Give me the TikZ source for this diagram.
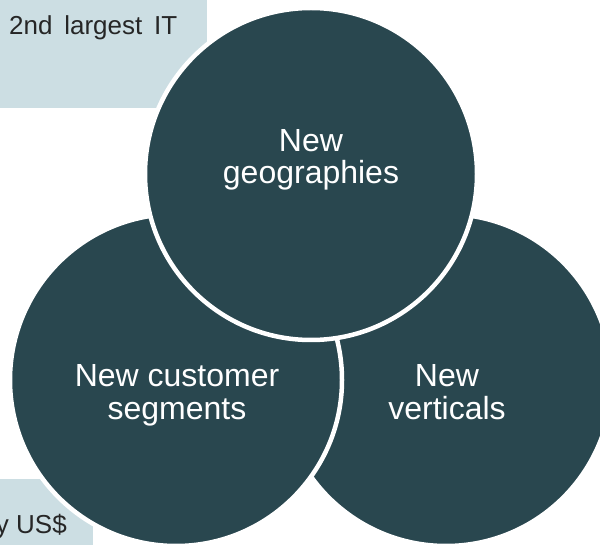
\documentclass[tikz,border=0pt]{standalone}
\usepackage{fontspec}
\setmainfont{Liberation Sans}
\definecolor{circfill}{HTML}{29474F}
\definecolor{boxfill}{HTML}{CCDEE3}
\definecolor{boxink}{HTML}{262626}
\begin{document}
\begin{tikzpicture}[x=1pt,y=-1pt,
  venn/.style={circle, fill=circfill, draw=white, line width=4.5pt, minimum size=332pt, inner sep=0pt},
  vlabel/.style={text=white, font=\fontsize{32}{34}\selectfont, inner sep=0pt, anchor=base},
  boxtext/.style={text=boxink, font=\fontsize{26}{29}\selectfont, inner sep=0pt},
  infobox/.style={fill=boxfill, inner sep=0pt, draw=none}]
\useasboundingbox (0,0) rectangle (600,545);
\clip (0,0) rectangle (600,545);
\node[infobox, minimum width=217pt, minimum height=128pt, anchor=south west] (topbox) at (-10,108) {};
\node[infobox, minimum width=103pt, minimum height=80pt, anchor=north west] (botbox) at (-10,479) {};
\node[boxtext, anchor=base west] (toptext) at (9,35) {\makebox[168pt][s]{2nd largest IT}};
\node[boxtext, anchor=base east] (bottext) at (67,533) {y US\$};
\node[venn] (vert) at (446,380) {};
\node[venn] (cust) at (176,380) {};
\node[venn] (geo) at (311,174) {};
\node[vlabel] (geoA) at (311,152) {New};
\node[vlabel] (geoB) at (311,184) {geographies};
\node[vlabel] (custA) at (177,387) {New customer};
\node[vlabel] (custB) at (177,419) {segments};
\node[vlabel] (vertA) at (447,387) {New};
\node[vlabel] (vertB) at (447,419) {verticals};
\end{tikzpicture}
\end{document}
